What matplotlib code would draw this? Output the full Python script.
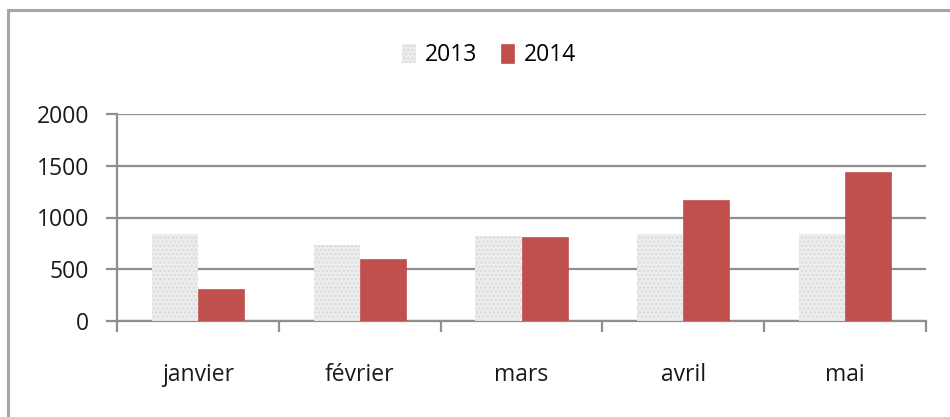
import matplotlib
matplotlib.use("Agg")
import matplotlib.pyplot as plt
from matplotlib.patches import Rectangle
import numpy as np

categories = ["janvier", "février", "mars", "avril", "mai"]
series_names = ["2013", "2014"]
values_2013 = [840, 730, 825, 840, 840]
values_2014 = [310, 600, 815, 1170, 1435]
yticks = [0, 500, 1000, 1500, 2000]

plt.rcParams['font.family'] = ['Open Sans', 'DejaVu Sans']

W, H = 950, 417
fig = plt.figure(figsize=(W / 100, H / 100), dpi=100)
ax = fig.add_axes([117 / W, (H - 321) / H, (926 - 117) / W, (321 - 114) / H])

grid_c = '#8f8f8f'
x = np.arange(len(categories))
bw = 0.285
b1 = ax.bar(x - bw / 2, values_2013, bw, color='#ececec', edgecolor='#dcdcdc',
            hatch='....', linewidth=0, label=series_names[0], zorder=3)
for p in b1:
    p.set_edgecolor('#d9d9d9')
b2 = ax.bar(x + bw / 2, values_2014, bw, color='#c0504d', edgecolor='#c0504d',
            linewidth=0.5, label=series_names[1], zorder=3)

ax.set_xlim(-0.5, len(categories) - 0.5)
ax.set_ylim(0, 2000)
ax.set_yticks(yticks)
ax.set_yticklabels([str(v) for v in yticks])
ax.yaxis.grid(True, color=grid_c, linewidth=1.6, zorder=0)
ax.set_axisbelow(True)

ax.set_xticks(x)
ax.set_xticklabels(categories)
ax.set_xticks(np.arange(-0.5, len(categories), 1.0), minor=True)
ax.tick_params(axis='x', which='major', length=0, pad=30, labelsize=16.5, colors='#1a1a1a')
ax.tick_params(axis='x', which='minor', length=8, width=1.6, color=grid_c, direction='out')
ax.tick_params(axis='y', length=8, width=1.6, color=grid_c, pad=12, labelsize=16.5, labelcolor='#1a1a1a')

for s in ['top', 'right']:
    ax.spines[s].set_visible(False)
for s in ['left', 'bottom']:
    ax.spines[s].set_color(grid_c)
    ax.spines[s].set_linewidth(1.6)

leg = fig.legend(handles=[b1, b2], labels=series_names, loc='center',
                 bbox_to_anchor=(489 / W, 1 - 55 / H), ncol=2, frameon=False,
                 fontsize=16.5, handlelength=0.6, handleheight=0.9,
                 handletextpad=0.4, columnspacing=1.0)

fig.patches.append(Rectangle((8 / W, -0.2), 1.2, 1.2 - 10 / H, transform=fig.transFigure,
                             fill=False, edgecolor='#a6a6a6', linewidth=2.2))

fig.savefig('out.png', dpi=100)
